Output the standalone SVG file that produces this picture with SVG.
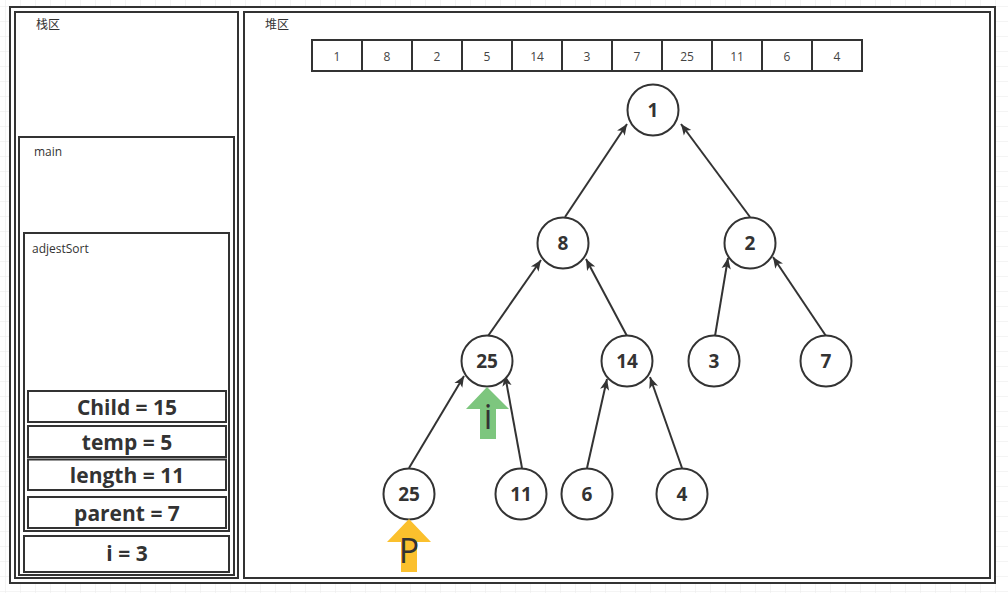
<svg xmlns="http://www.w3.org/2000/svg" width="1008" height="593" viewBox="0 0 1008 593">
<defs>
<pattern id="grid" x="5" y="6" width="15" height="15" patternUnits="userSpaceOnUse">
<path d="M0 0H15M0 0V15" fill="none" stroke="#e9e9e9" stroke-width="1"/>
</pattern>
<marker id="ah" viewBox="0 0 10 10" refX="10" refY="5" markerWidth="11" markerHeight="11" markerUnits="userSpaceOnUse" orient="auto">
<path d="M0 0.8 L10 5 L0 9.2 L2.5 5 Z" fill="#333"/>
</marker>
<style>
.box{fill:#fff;stroke:#333;stroke-width:2}
.lbl{font-family:"Open Sans","Noto Sans CJK SC",sans-serif;font-size:12px;fill:#333}
.var{font-family:"Open Sans",sans-serif;font-size:21px;font-weight:700;fill:#333;text-anchor:middle;dominant-baseline:central}
.cell{fill:#fff;stroke:#333;stroke-width:2}
.ct{font-family:"Open Sans",sans-serif;font-size:12px;fill:#444;text-anchor:middle;dominant-baseline:central}
.node circle{fill:#fff;stroke:#333;stroke-width:2}
.node text{font-family:"Open Sans",sans-serif;font-size:19px;font-weight:700;fill:#333;text-anchor:middle;dominant-baseline:central}
.edge{stroke:#333;stroke-width:2;fill:none;marker-end:url(#ah)}
.big{font-family:"Open Sans",sans-serif;font-size:34px;fill:#333;text-anchor:middle;dominant-baseline:central}
</style>
</defs>
<rect width="1008" height="593" fill="#fff"/>
<rect width="1008" height="593" fill="url(#grid)"/>
<rect class="box" x="10" y="7" width="985" height="576"/>

<g id="stack">
<rect class="box" x="15" y="12" width="223" height="566"/>
<text class="lbl" x="36" y="29">栈区</text>
</g>
<g id="main">
<rect class="box" x="19" y="137" width="215" height="438"/>
<text class="lbl" x="34" y="156">main</text>
</g>
<g id="adjestSort">
<rect class="box" x="24" y="233" width="205" height="298"/>
<text class="lbl" x="32" y="253">adjestSort</text>
</g>
<g id="var-child"><rect class="box" x="28" y="391" width="198" height="31"/><text class="var" x="127" y="406.5">Child = 15</text></g>
<g id="var-temp"><rect class="box" x="28" y="426" width="198" height="31"/><text class="var" x="127" y="441.5">temp = 5</text></g>
<g id="var-length"><rect class="box" x="28" y="459.5" width="198" height="30.5"/><text class="var" x="127" y="474.5">length = 11</text></g>
<g id="var-parent"><rect class="box" x="28" y="497" width="198" height="31"/><text class="var" x="127" y="512.5">parent = 7</text></g>
<g id="var-i"><rect class="box" x="24" y="536" width="205" height="36"/><text class="var" x="127" y="553">i = 3</text></g>

<g id="heap">
<rect class="box" x="244" y="12" width="746" height="566"/>
<text class="lbl" x="265" y="29">堆区</text>
</g>

<g id="array">
<rect class="cell" x="312" y="40" width="50" height="31"/><text class="ct" x="337" y="56">1</text>
<rect class="cell" x="362" y="40" width="50" height="31"/><text class="ct" x="387" y="56">8</text>
<rect class="cell" x="412" y="40" width="50" height="31"/><text class="ct" x="437" y="56">2</text>
<rect class="cell" x="462" y="40" width="50" height="31"/><text class="ct" x="487" y="56">5</text>
<rect class="cell" x="512" y="40" width="50" height="31"/><text class="ct" x="537" y="56">14</text>
<rect class="cell" x="562" y="40" width="50" height="31"/><text class="ct" x="587" y="56">3</text>
<rect class="cell" x="612" y="40" width="50" height="31"/><text class="ct" x="637" y="56">7</text>
<rect class="cell" x="662" y="40" width="50" height="31"/><text class="ct" x="687" y="56">25</text>
<rect class="cell" x="712" y="40" width="50" height="31"/><text class="ct" x="737" y="56">11</text>
<rect class="cell" x="762" y="40" width="50" height="31"/><text class="ct" x="787" y="56">6</text>
<rect class="cell" x="812" y="40" width="50" height="31"/><text class="ct" x="837" y="56">4</text>
</g>

<g id="connectors">
<line class="edge" x1="565" y1="217" x2="627" y2="124"/>
<line class="edge" x1="750" y1="217" x2="681" y2="124"/>
<line class="edge" x1="488" y1="336" x2="541" y2="260"/>
<line class="edge" x1="627" y1="336" x2="586" y2="259"/>
<line class="edge" x1="715" y1="336" x2="728" y2="258"/>
<line class="edge" x1="826" y1="336" x2="773" y2="257"/>
<line class="edge" x1="409" y1="468" x2="464" y2="376"/>
<line class="edge" x1="522" y1="468" x2="505" y2="375"/>
<line class="edge" x1="587" y1="468" x2="607" y2="379"/>
<line class="edge" x1="682" y1="468" x2="650" y2="377"/>
</g>

<g id="n1" class="node"><circle cx="653" cy="110" r="25.5"/><text x="653" y="110">1</text></g>
<g id="n8" class="node"><circle cx="563" cy="243" r="25.5"/><text x="563" y="243">8</text></g>
<g id="n2" class="node"><circle cx="750" cy="243" r="25.5"/><text x="750" y="243">2</text></g>
<g id="n25a" class="node"><circle cx="487" cy="361" r="25.5"/><text x="487" y="361">25</text></g>
<g id="n14" class="node"><circle cx="627" cy="361" r="25.5"/><text x="627" y="361">14</text></g>
<g id="n3" class="node"><circle cx="714" cy="361" r="25.5"/><text x="714" y="361">3</text></g>
<g id="n7" class="node"><circle cx="826" cy="361" r="25.5"/><text x="826" y="361">7</text></g>
<g id="n25b" class="node"><circle cx="409" cy="494" r="25.5"/><text x="409" y="494">25</text></g>
<g id="n11" class="node"><circle cx="521" cy="494" r="25.5"/><text x="521" y="494">11</text></g>
<g id="n6" class="node"><circle cx="587" cy="494" r="25.5"/><text x="587" y="494">6</text></g>
<g id="n4" class="node"><circle cx="682" cy="494" r="25.5"/><text x="682" y="494">4</text></g>

<g id="arrow-i">
<path d="M487 387 L509 409 L496 409 L496 439 L480 439 L480 409 L466 409 Z" fill="#7DC67E"/>
<text class="big" x="488" y="416">i</text>
</g>
<g id="arrow-p">
<path d="M409 519 L431 542 L417 542 L417 572 L401 572 L401 542 L387 542 Z" fill="#FBC02D"/>
<text class="big" x="409" y="550">P</text>
</g>
</svg>
